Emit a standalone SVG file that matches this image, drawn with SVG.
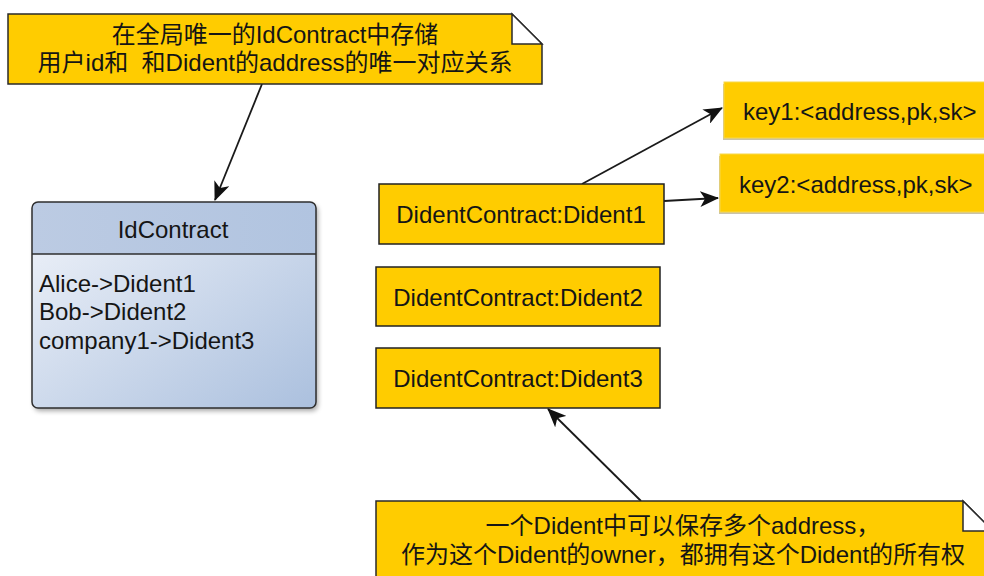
<svg xmlns="http://www.w3.org/2000/svg" width="984" height="576" viewBox="0 0 984 576">
  <defs>
    <style>
      text { font-family: "Liberation Sans", "Noto Sans CJK SC", sans-serif; font-size: 24px; fill: #151515; }
      .mid { text-anchor: middle; }
      .note { fill: #FFCC00; stroke: #2a2a2a; stroke-width: 1.5; }
      .fold { fill: #ffffff; stroke: #2a2a2a; stroke-width: 1.5; stroke-linejoin: miter; }
      .box { fill: #FFCC00; stroke: #222222; stroke-width: 1.5; }
      .key { fill: #FFCC00; stroke: #F7D84A; stroke-width: 1; }
      .keyshadow { fill: #8a7a40; opacity: 0.45; }
      .conn { stroke: #1a1a1a; stroke-width: 1.8; fill: none; marker-end: url(#arrow); }
    </style>
    <marker id="arrow" markerUnits="userSpaceOnUse" markerWidth="20" markerHeight="16" refX="18" refY="8" orient="auto">
      <path d="M0,0 L19,8 L0,16 L5,8 z" fill="#111111"/>
    </marker>
    <linearGradient id="bodyGrad" x1="0" y1="0" x2="1" y2="1">
      <stop offset="0" stop-color="#f1f4fa"/>
      <stop offset="1" stop-color="#abc0de"/>
    </linearGradient>
    <linearGradient id="headGrad" x1="0" y1="0" x2="1" y2="0">
      <stop offset="0" stop-color="#bccbe3"/>
      <stop offset="1" stop-color="#b1c4e0"/>
    </linearGradient>
    <filter id="shadow" x="-10%" y="-10%" width="125%" height="125%">
      <feGaussianBlur in="SourceAlpha" stdDeviation="2.5"/>
      <feOffset dx="2" dy="3" result="b"/>
      <feComponentTransfer><feFuncA type="linear" slope="0.35"/></feComponentTransfer>
      <feMerge><feMergeNode/><feMergeNode in="SourceGraphic"/></feMerge>
    </filter>
    <clipPath id="idClip">
      <rect x="32" y="202" width="284" height="206" rx="6" ry="6"/>
    </clipPath>
  </defs>

  <rect x="0" y="0" width="984" height="576" fill="#ffffff"/>

  <g id="connectors">
    <line class="conn" x1="262" y1="84" x2="215" y2="200"/>
    <line class="conn" x1="582" y1="184" x2="722" y2="108"/>
    <line class="conn" x1="664" y1="201" x2="718" y2="198"/>
    <line class="conn" x1="641" y1="501" x2="548" y2="409"/>
  </g>

  <g id="note-top">
    <path class="note" d="M8,14 L512,14 L542,44 L542,84 L8,84 Z"/>
    <path class="fold" d="M512,14 L512,44 L542,44 Z"/>
    <text class="mid" x="275" y="43">在全局唯一的IdContract中存储</text>
    <text class="mid" x="275" y="71" xml:space="preserve">用户id和  和Dident的address的唯一对应关系</text>
  </g>

  <g id="idcontract">
    <g filter="url(#shadow)">
      <rect x="32" y="202" width="284" height="206" rx="6" ry="6" fill="url(#bodyGrad)"/>
    </g>
    <rect x="32" y="202" width="284" height="52" fill="url(#headGrad)" clip-path="url(#idClip)"/>
    <rect x="32" y="202" width="284" height="206" rx="6" ry="6" fill="none" stroke="#2e2e2e" stroke-width="1.5"/>
    <line x1="32" y1="254" x2="316" y2="254" stroke="#2e2e2e" stroke-width="1.5"/>
    <text class="mid" x="173" y="238">IdContract</text>
    <text x="39" y="292">Alice-&gt;Dident1</text>
    <text x="39" y="320">Bob-&gt;Dident2</text>
    <text x="39" y="349">company1-&gt;Dident3</text>
  </g>

  <g id="dident1">
    <rect class="box" x="379" y="184" width="285" height="60"/>
    <text class="mid" x="521" y="223">DidentContract:Dident1</text>
  </g>

  <g id="dident2">
    <rect class="box" x="376" y="267" width="284" height="59"/>
    <text class="mid" x="518" y="306">DidentContract:Dident2</text>
  </g>

  <g id="dident3">
    <rect class="box" x="376" y="348" width="284" height="60"/>
    <text class="mid" x="518" y="387">DidentContract:Dident3</text>
  </g>

  <g id="key1">
    <rect class="keyshadow" x="723" y="84" width="270" height="56"/>
    <rect class="key" x="724" y="82" width="270" height="56"/>
    <text x="743" y="120">key1:&lt;address,pk,sk&gt;</text>
  </g>

  <g id="key2">
    <rect class="keyshadow" x="719" y="156" width="275" height="58"/>
    <rect class="key" x="720" y="154" width="275" height="58"/>
    <text x="739" y="193">key2:&lt;address,pk,sk&gt;</text>
  </g>

  <g id="note-bottom">
    <path class="note" d="M376,501 L963,501 L993,531 L993,600 L376,600 Z"/>
    <path class="fold" d="M963,501 L963,531 L993,531 Z"/>
    <text class="mid" x="683" y="534">一个Dident中可以保存多个address，</text>
    <text class="mid" x="683" y="563">作为这个Dident的owner，都拥有这个Dident的所有权</text>
  </g>
</svg>
